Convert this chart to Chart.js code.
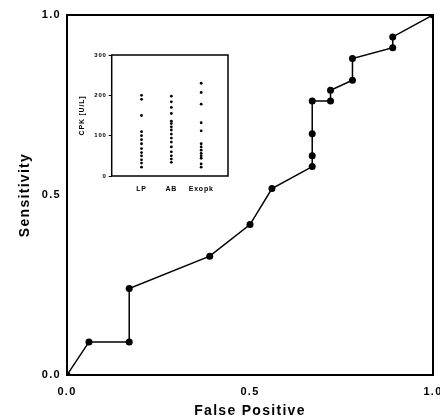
<!DOCTYPE html>
<html>
<head>
<meta charset="utf-8">
<script src="https://cdn.jsdelivr.net/npm/chart.js@4/dist/chart.umd.min.js"></script>
<style>
  html, body { margin: 0; padding: 0; background: #fff; }
  #wrap { position: relative; width: 440px; height: 420px; overflow: hidden; }
  #roc { position: absolute; left: 0; top: 0; }
  #cpk { position: absolute; left: 70px; top: 45px; }
</style>
</head>
<body>
<div id="wrap">
  <canvas id="roc" width="440" height="420"></canvas>
  <canvas id="cpk" width="170" height="155"></canvas>
</div>
<script>
// ROC curve points
const falsePositive = [0, 0.06, 0.17, 0.17, 0.39, 0.5, 0.56, 0.67, 0.67, 0.67, 0.67, 0.72, 0.72, 0.78, 0.78, 0.89, 0.89, 1];
const sensitivity = [0, 0.092, 0.092, 0.24, 0.33, 0.418, 0.518, 0.579, 0.609, 0.67, 0.761, 0.761, 0.791, 0.819, 0.879, 0.909, 0.939, 1];
const rocTicks = [0, 0.5, 1];

// inset: CPK values per group
const groups = ['LP', 'AB', 'Exopk'];
const cpkLP = [200, 190, 150, 110, 100, 90, 80, 68, 58, 50, 40, 32, 22];
const cpkAB = [198, 184, 170, 155, 136, 130, 122, 114, 104, 94, 84, 72, 60, 50, 42, 34];
const cpkExopk = [230, 207, 178, 132, 112, 80, 72, 64, 56, 50, 44, 30, 22];
const cpkTicks = [0, 100, 200, 300];

const FONT = '"Liberation Sans", Arial, sans-serif';

// box around the plot area + spaced-out lettering
const frame = {
  id: 'frame',
  beforeDraw(chart, args, opts) {
    chart.ctx.letterSpacing = opts.spacing || '0px';
  },
  beforeDatasetsDraw(chart, args, opts) {
    const { ctx, chartArea: a } = chart;
    ctx.save();
    ctx.strokeStyle = '#000';
    ctx.lineWidth = opts.width;
    ctx.strokeRect(a.left, a.top, a.right - a.left, a.bottom - a.top);
    ctx.restore();
  }
};

new Chart(document.getElementById('roc'), {
  type: 'scatter',
  data: {
    datasets: [{
      data: falsePositive.map((x, i) => ({ x: x, y: sensitivity[i] })),
      showLine: true,
      borderColor: '#000',
      borderWidth: 1.5,
      backgroundColor: '#000',
      pointRadius: 3.5,
      pointBorderWidth: 0
    }]
  },
  options: {
    responsive: false,
    animation: false,
    layout: { padding: { top: 15, right: 7, left: 0, bottom: 0 } },
    plugins: {
      legend: { display: false },
      tooltip: { enabled: false },
      frame: { width: 2, spacing: '1.3px' }
    },
    scales: {
      x: {
        type: 'linear',
        min: 0,
        max: 1,
        grid: { display: false, drawTicks: false },
        border: { display: false },
        afterBuildTicks: s => { s.ticks = rocTicks.map(v => ({ value: v })); },
        ticks: {
          padding: 10,
          maxRotation: 0,
          color: '#000',
          font: { family: FONT, size: 11, weight: 'bold' },
          callback: v => v.toFixed(1)
        },
        title: {
          display: true,
          text: 'False Positive',
          color: '#000',
          font: { family: FONT, size: 14, weight: 'bold' },
          padding: { top: 0, bottom: 0 }
        },
        afterFit: s => { s.height = 45; s.paddingLeft = 0; s.paddingRight = 0; }
      },
      y: {
        type: 'linear',
        min: 0,
        max: 1,
        grid: { display: false, drawTicks: false },
        border: { display: false },
        afterBuildTicks: s => { s.ticks = rocTicks.map(v => ({ value: v })); },
        ticks: {
          padding: 6,
          color: '#000',
          font: { family: FONT, size: 11, weight: 'bold' },
          callback: v => v.toFixed(1)
        },
        title: {
          display: true,
          text: 'Sensitivity',
          color: '#000',
          font: { family: FONT, size: 14, weight: 'bold' },
          padding: { top: 17, bottom: 0 }
        },
        afterFit: s => { s.width = 67; }
      }
    }
  },
  plugins: [frame]
});

new Chart(document.getElementById('cpk'), {
  type: 'scatter',
  data: {
    datasets: [cpkLP, cpkAB, cpkExopk].map((vals, i) => ({
      data: vals.map(y => ({ x: i + 1, y: y })),
      backgroundColor: '#000',
      pointRadius: 1.4,
      pointBorderWidth: 0
    }))
  },
  options: {
    responsive: false,
    animation: false,
    layout: { padding: { top: 10, right: 12, left: 0, bottom: 0 } },
    plugins: {
      legend: { display: false },
      tooltip: { enabled: false },
      frame: { width: 1.5, spacing: '0.8px' }
    },
    scales: {
      x: {
        type: 'linear',
        min: 0,
        max: 3.9,
        grid: { display: false, drawTicks: false },
        border: { display: false },
        afterBuildTicks: s => { s.ticks = groups.map((g, i) => ({ value: i + 1 })); },
        ticks: {
          padding: 9,
          maxRotation: 0,
          autoSkip: false,
          color: '#000',
          font: { family: FONT, size: 7, weight: 'bold' },
          callback: v => groups[v - 1]
        },
        afterFit: s => { s.height = 24; s.paddingLeft = 0; s.paddingRight = 0; }
      },
      y: {
        type: 'linear',
        min: 0,
        max: 300,
        grid: { display: true, drawOnChartArea: false, tickLength: 3, color: '#000', lineWidth: 1 },
        border: { display: false },
        afterBuildTicks: s => { s.ticks = cpkTicks.map(v => ({ value: v })); },
        ticks: {
          padding: 2,
          color: '#000',
          font: { family: FONT, size: 6, weight: 'bold' }
        },
        title: {
          display: true,
          text: 'CPK [U/L]',
          color: '#000',
          font: { family: FONT, size: 7, weight: 'bold' },
          padding: { top: 8, bottom: 0 }
        },
        afterFit: s => { s.width = 41.7; }
      }
    }
  },
  plugins: [frame]
});
</script>
</body>
</html>
